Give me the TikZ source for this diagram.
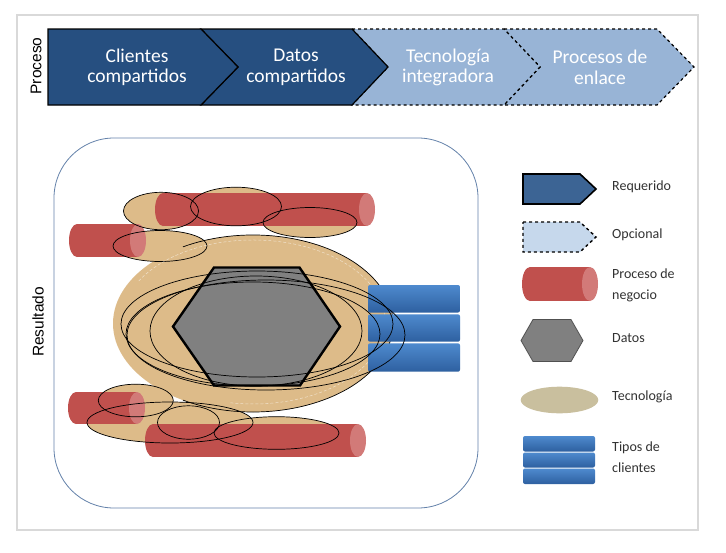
\documentclass[tikz,border=0pt]{standalone}
\usepackage{fontspec}
\setmainfont{Carlito}
\newfontfamily\lsans{Liberation Sans}
\definecolor{chevdark}{RGB}{38,79,128}
\definecolor{chevlight}{RGB}{152,180,214}
\definecolor{legdark}{RGB}{60,100,148}
\definecolor{leglight}{RGB}{198,216,236}
\definecolor{cylred}{RGB}{192,80,77}
\definecolor{cylcapc}{RGB}{210,122,120}
\definecolor{tanfill}{RGB}{221,187,137}
\definecolor{legtan}{RGB}{201,191,158}
\definecolor{hexgray}{RGB}{128,128,128}
\definecolor{framegray}{RGB}{217,217,217}
\definecolor{roundblue}{RGB}{100,130,170}
\definecolor{bartop}{RGB}{78,138,206}
\definecolor{barbot}{RGB}{46,96,160}
\definecolor{labelgray}{RGB}{50,50,50}
\tikzset{
  chevreq/.style={fill=chevdark, draw=black, line width=1.2pt, line join=miter},
  chevopt/.style={fill=chevlight, draw=black, line width=1.2pt, dashed, line join=miter},
  chevtext/.style={text=white, align=center, font=\fontsize{19.5}{20.5}\selectfont, inner sep=0pt},
  sidelabel/.style={rotate=90, font=\lsans\fontsize{15.5}{18}\selectfont, inner sep=0pt},
  leglabel/.style={anchor=west, align=left, text=labelgray, font=\fontsize{14}{21}\selectfont, inner sep=0pt},
  cylbody/.style={fill=cylred},
  cylcap/.style={fill=cylcapc},
  tanel/.style={fill=tanfill},
  elline/.style={draw=black, line width=0.7pt},
  hexstyle/.style={fill=hexgray, draw=black, line width=2.4pt, line join=miter},
  barstyle/.style={top color=bartop, bottom color=barbot, rounded corners=2pt},
}
\newcommand\mycyl[4]{%
  \pgfmathsetmacro\cylmid{(#3+#4)/2}%
  \pgfmathsetmacro\cylry{(#4-#3)/2}%
  \fill[cylbody] (#1+8,#3) rectangle (#2-8,#4);
  \fill[cylbody] (#1+8,\cylmid) ellipse [x radius=8, y radius=\cylry];
  \fill[cylcap] (#2-8,\cylmid) ellipse [x radius=8, y radius=\cylry];
}
\begin{document}
\begin{tikzpicture}[x=1pt,y=-1pt]
\useasboundingbox (0,0) rectangle (726,552);
\fill[white] (0,0) rectangle (726,552);
% outer frame
\draw[framegray, line width=1.5pt] (17,15) rectangle (698,530);

% ---- process chevrons ----
\path[chevopt] (504,29) -- (657,29) -- (694,67) -- (657,105) -- (504,105) -- (540,67) -- cycle;
\path[chevopt] (352,29) -- (504,29) -- (540,67) -- (504,105) -- (352,105) -- (388,67) -- cycle;
\path[chevreq] (201,29) -- (352,29) -- (388,67) -- (352,105) -- (201,105) -- (238,67) -- cycle;
\path[chevreq] (48,29) -- (201,29) -- (238,67) -- (201,105) -- (48,105) -- cycle;
\node[chevtext] (c1) at (137,67.5) {Clientes\\compartidos};
\node[chevtext] (c2) at (296,67.5) {Datos\\compartidos};
\node[chevtext] (c3) at (448,67.5) {Tecnología\\integradora};
\node[chevtext] (c4) at (600,67.5) {Procesos de\\enlace};
\node[sidelabel] (proc) at (36,66) {Proceso};
\node[sidelabel] (res) at (38,322) {Resultado};

% ---- result area ----
\draw[roundblue, line width=0.8pt, rounded corners=60pt] (54,138) rectangle (478,508);

% tan fills
\path[tanel] (253,323.5) ellipse [x radius=140, y radius=88.5];
\path[tanel] (161,211) ellipse [x radius=37.5, y radius=18.7];
\path[tanel] (236,206.5) ellipse [x radius=45.5, y radius=19.3];
\path[tanel] (310,222.5) ellipse [x radius=47, y radius=15];
\path[tanel] (160,246) ellipse [x radius=47, y radius=15.5];
\path[tanel] (135.8,400.5) ellipse [x radius=37.5, y radius=16.3];
\path[tanel] (170,422.5) ellipse [x radius=83, y radius=20.5];
\path[tanel] (188.5,422.5) ellipse [x radius=31, y radius=16.7];
\path[tanel] (276.5,433) ellipse [x radius=62.5, y radius=16.3];

% cylinders (business processes)
\mycyl{155}{375}{193}{226}
\mycyl{69}{146}{224}{257}
\mycyl{68}{145}{392}{424}
\mycyl{145}{366}{424}{457}

% outlines of small technology ellipses
\draw[elline] (161,211) ellipse [x radius=37.5, y radius=18.7];
\draw[elline] (236,206.5) ellipse [x radius=45.5, y radius=19.3];
\draw[elline] (310,222.5) ellipse [x radius=47, y radius=15];
\draw[elline] (160,246) ellipse [x radius=47, y radius=15.5];
\draw[elline] (135.8,400.5) ellipse [x radius=37.5, y radius=16.3];
\draw[elline] (170,422.5) ellipse [x radius=83, y radius=20.5];
\draw[elline] (188.5,422.5) ellipse [x radius=31, y radius=16.7];
\draw[elline] (276.5,433) ellipse [x radius=62.5, y radius=16.3];

% big ellipse partial outline and faint white dashes
\draw[elline] (253,323.5) ++(-120:140 and 88.5) arc [start angle=-120, end angle=120, x radius=140, y radius=88.5];
\draw[white, dash pattern=on 3pt off 2pt, line width=0.5pt, opacity=0.55] (253,322) ++(-150:132 and 82) arc [start angle=-150, end angle=100, x radius=132, y radius=82];

% customer types bars
\path[barstyle] (368,285) rectangle (460,312.5);
\path[barstyle] (368,314.3) rectangle (460,341.7);
\path[barstyle] (368,343.3) rectangle (460,371.7);

% data hexagon
\path[hexstyle] (173,326.5) -- (214,267.5) -- (299.5,267.5) -- (340,326.5) -- (300,385.5) -- (214,385.5) -- cycle;

% inner technology ellipse outlines
\draw[elline] (257,324) ellipse [x radius=136, y radius=53];
\draw[elline] (266,335) ellipse [x radius=139, y radius=55];
\draw[elline] (256,331) ellipse [x radius=106, y radius=55];
\draw[elline] (253,334) ellipse [x radius=127, y radius=52];

% ---- legend ----
\path[fill=legdark, draw=black, line width=1.6pt, line join=miter] (523,174) -- (580,174) -- (596,189) -- (580,204) -- (523,204) -- cycle;
\path[fill=leglight, draw=black, line width=1.4pt, dashed, line join=miter] (523,222) -- (580,222) -- (596,237) -- (580,252) -- (523,252) -- cycle;
\mycyl{522}{598}{267}{301}
\path[fill=hexgray, draw={rgb,255:red,80;green,80;blue,80}, line width=0.8pt] (521,340.5) -- (533,319.5) -- (571,319.5) -- (583,340.5) -- (571,361.5) -- (533,361.5) -- cycle;
\path[fill=legtan] (559.5,400) ellipse [x radius=38.8, y radius=13.3];
\path[barstyle] (523,436) rectangle (595,451.5);
\path[barstyle] (523,452.5) rectangle (595,467.5);
\path[barstyle] (523,468.5) rectangle (595,484);

\node[leglabel] (l1) at (612,187) {Requerido};
\node[leglabel] (l2) at (612,235) {Opcional};
\node[leglabel] (l3) at (612,285.5) {Proceso de\\negocio};
\node[leglabel] (l4) at (612,338) {Datos};
\node[leglabel] (l5) at (612,397) {Tecnología};
\node[leglabel] (l6) at (612,457) {Tipos de\\clientes};
\end{tikzpicture}
\end{document}
